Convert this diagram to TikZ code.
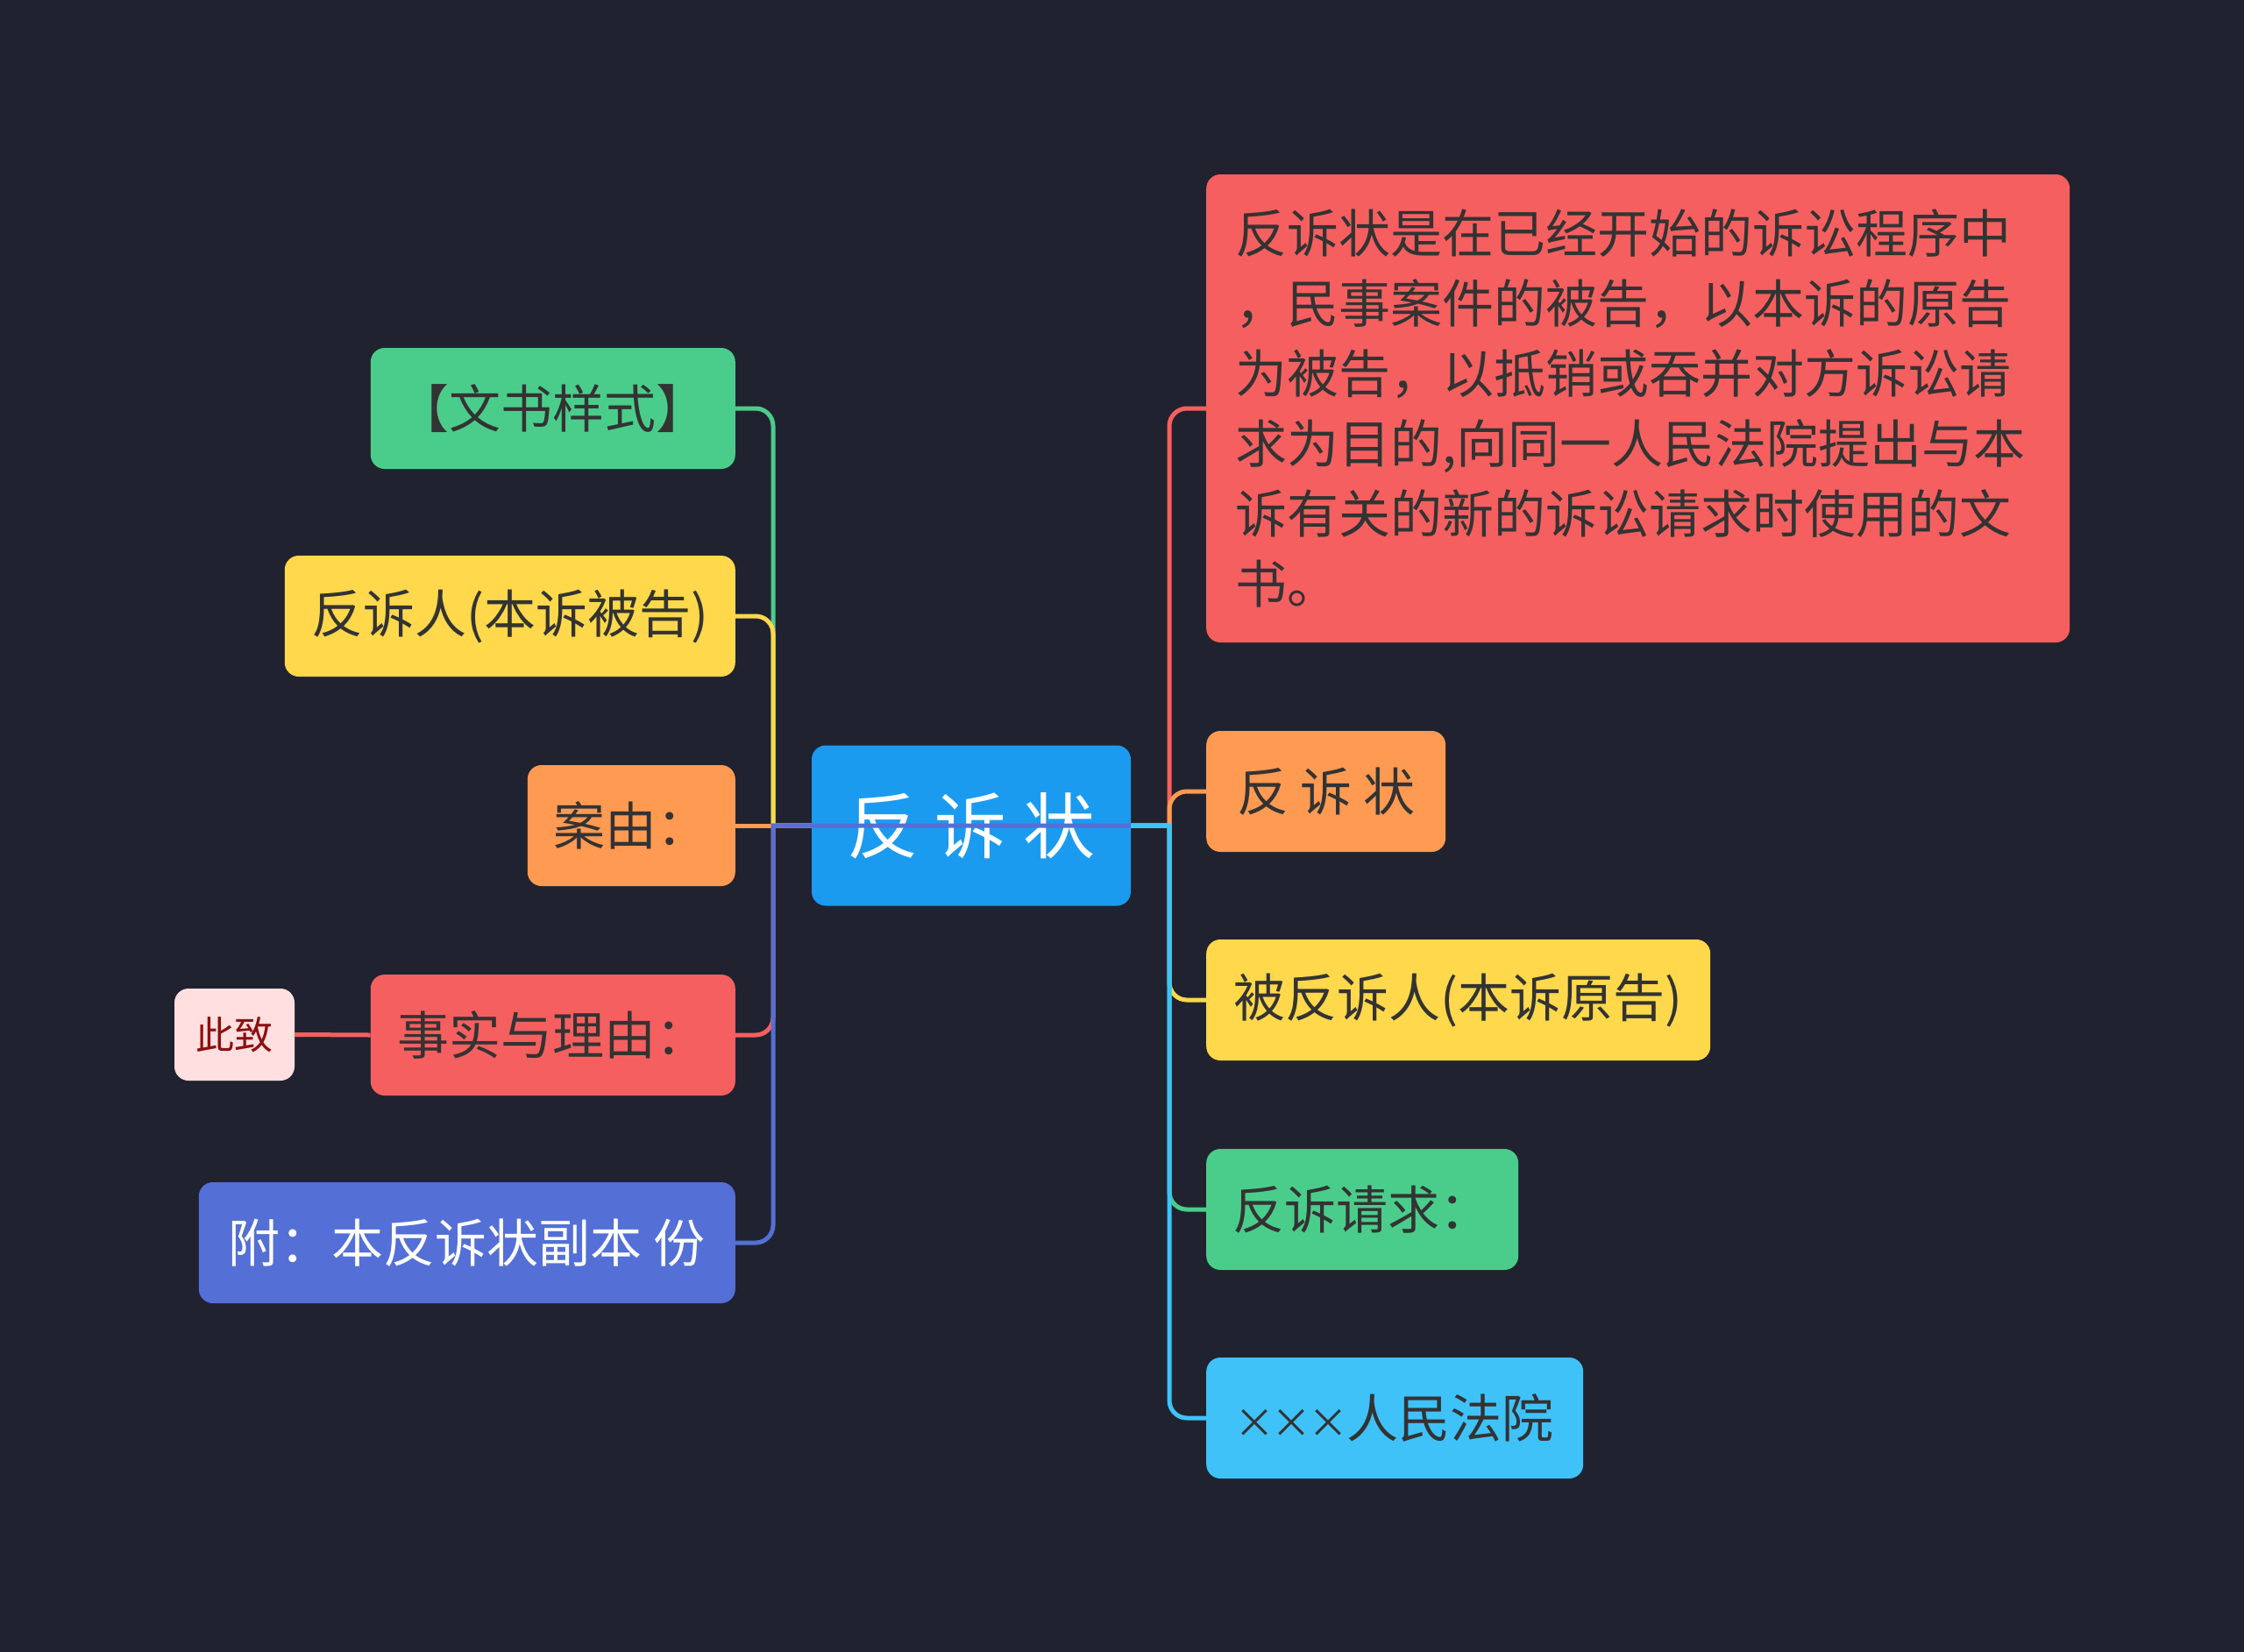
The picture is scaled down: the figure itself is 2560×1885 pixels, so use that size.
\documentclass[tikz,border=0pt]{standalone}
\usepackage{fontspec}
\setmainfont{Noto Sans CJK SC}
\definecolor{bg}{HTML}{20232F}
\definecolor{cblue}{HTML}{1A9BF0}
\definecolor{cgreen}{HTML}{4ACD8B}
\definecolor{cyellow}{HTML}{FFD84B}
\definecolor{corange}{HTML}{FF9A52}
\definecolor{cred}{HTML}{F65F5F}
\definecolor{cindigo}{HTML}{546FD6}
\definecolor{clblue}{HTML}{3FC2F8}
\definecolor{cpink}{HTML}{FFDFDF}
\definecolor{cdarkred}{HTML}{8B1010}
\definecolor{txt}{HTML}{333333}
\newcommand{\xm}{\makebox[42pt]{\fontsize{46}{50}\selectfont ×}}
\begin{document}
\begin{tikzpicture}[x=1pt,y=-1pt,
  box/.style={rounded corners=16pt, inner sep=0pt, text=txt, minimum height=138pt,
    font=\fontsize{59}{70}\selectfont},
  conn/.style={line width=5pt},
  rc/.style={rounded corners=20pt},
]
\fill[bg] (0,0) rectangle (2560,1885);
\useasboundingbox (0,0) rectangle (2560,1885);

% center
\node[box, fill=cblue, text=white, minimum width=364pt, minimum height=183pt,
  font=\fontsize{82}{90}\selectfont] (c) at (1108,942) {反 诉 状};

% left
\node[box, fill=cgreen, anchor=east, minimum width=416pt] (l1) at (839,466) {【文书样式】};
\node[box, fill=cyellow, anchor=east, minimum width=514pt] (l2) at (839,703) {反诉人(本诉被告)};
\node[box, fill=corange, anchor=east, minimum width=237pt] (l3) at (839,942) {案由：};
\node[box, fill=cred, anchor=east, minimum width=416pt] (l4) at (839,1181) {事实与理由：};
\node[box, fill=cindigo, text=white, anchor=east, minimum width=612pt] (l5) at (839,1418) {附：本反诉状副本 份};
\node[box, fill=cpink, text=cdarkred, minimum width=137pt, minimum height=105pt,
  font=\fontsize{44}{50}\selectfont] (zz) at (267.5,1180.5) {此致};

% right
\node[box, fill=cred, anchor=west, text width=919pt, inner xsep=33pt, minimum height=534pt,
  align=left, font=\fontsize{59}{80}\selectfont] (r1) at (1376,466)
  {反诉状是在已经开始的诉讼程序中\\，民事案件的被告，以本诉的原告\\为被告，以抵销或吞并对方诉讼请\\求为目的,向同一人民法院提出与本\\诉有关的新的诉讼请求时使用的文\\书。};
\node[box, fill=corange, anchor=west, minimum width=273pt] (r2) at (1376,903) {反 诉 状};
\node[box, fill=cyellow, anchor=west, minimum width=575pt] (r3) at (1376,1141) {被反诉人(本诉原告)};
\node[box, fill=cgreen, anchor=west, minimum width=356pt] (r4) at (1376,1380) {反诉请求：};
\node[box, fill=clblue, anchor=west, minimum width=430pt] (r5) at (1376,1618) {\xm\xm\xm 人民法院};

% left connectors
\draw[conn, cgreen] (c.west) -- (882,942) [rc] -- (882,466) -- (l1.east);
\draw[conn, cyellow] (c.west) -- (882,942) [rc] -- (882,703) -- (l2.east);
\draw[conn, corange] (c.west) -- (l3.east);
\draw[conn, cred] (c.west) -- (882,942) [rc] -- (882,1181) -- (l4.east);
\draw[conn, cred] (l4.west) -- (zz.east);

% right connectors
\draw[conn, cred] (c.east) -- (1334,942) [rc] -- (1334,466) -- (r1.west);
\draw[conn, corange] (c.east) -- (1334,942) [rc] -- (1334,903) -- (r2.west);
\draw[conn, cyellow] (c.east) -- (1334,942) [rc] -- (1334,1141) -- (r3.west);
\draw[conn, cgreen] (c.east) -- (1334,942) [rc] -- (1334,1380) -- (r4.west);
\draw[conn, clblue] (c.east) -- (1334,942) [rc] -- (1334,1618) -- (r5.west);

% indigo connector, drawn over the center node as in the reference
\draw[conn, cindigo] (c.east) -- (882,942) [rc] -- (882,1418) -- (l5.east);
\end{tikzpicture}
\end{document}
